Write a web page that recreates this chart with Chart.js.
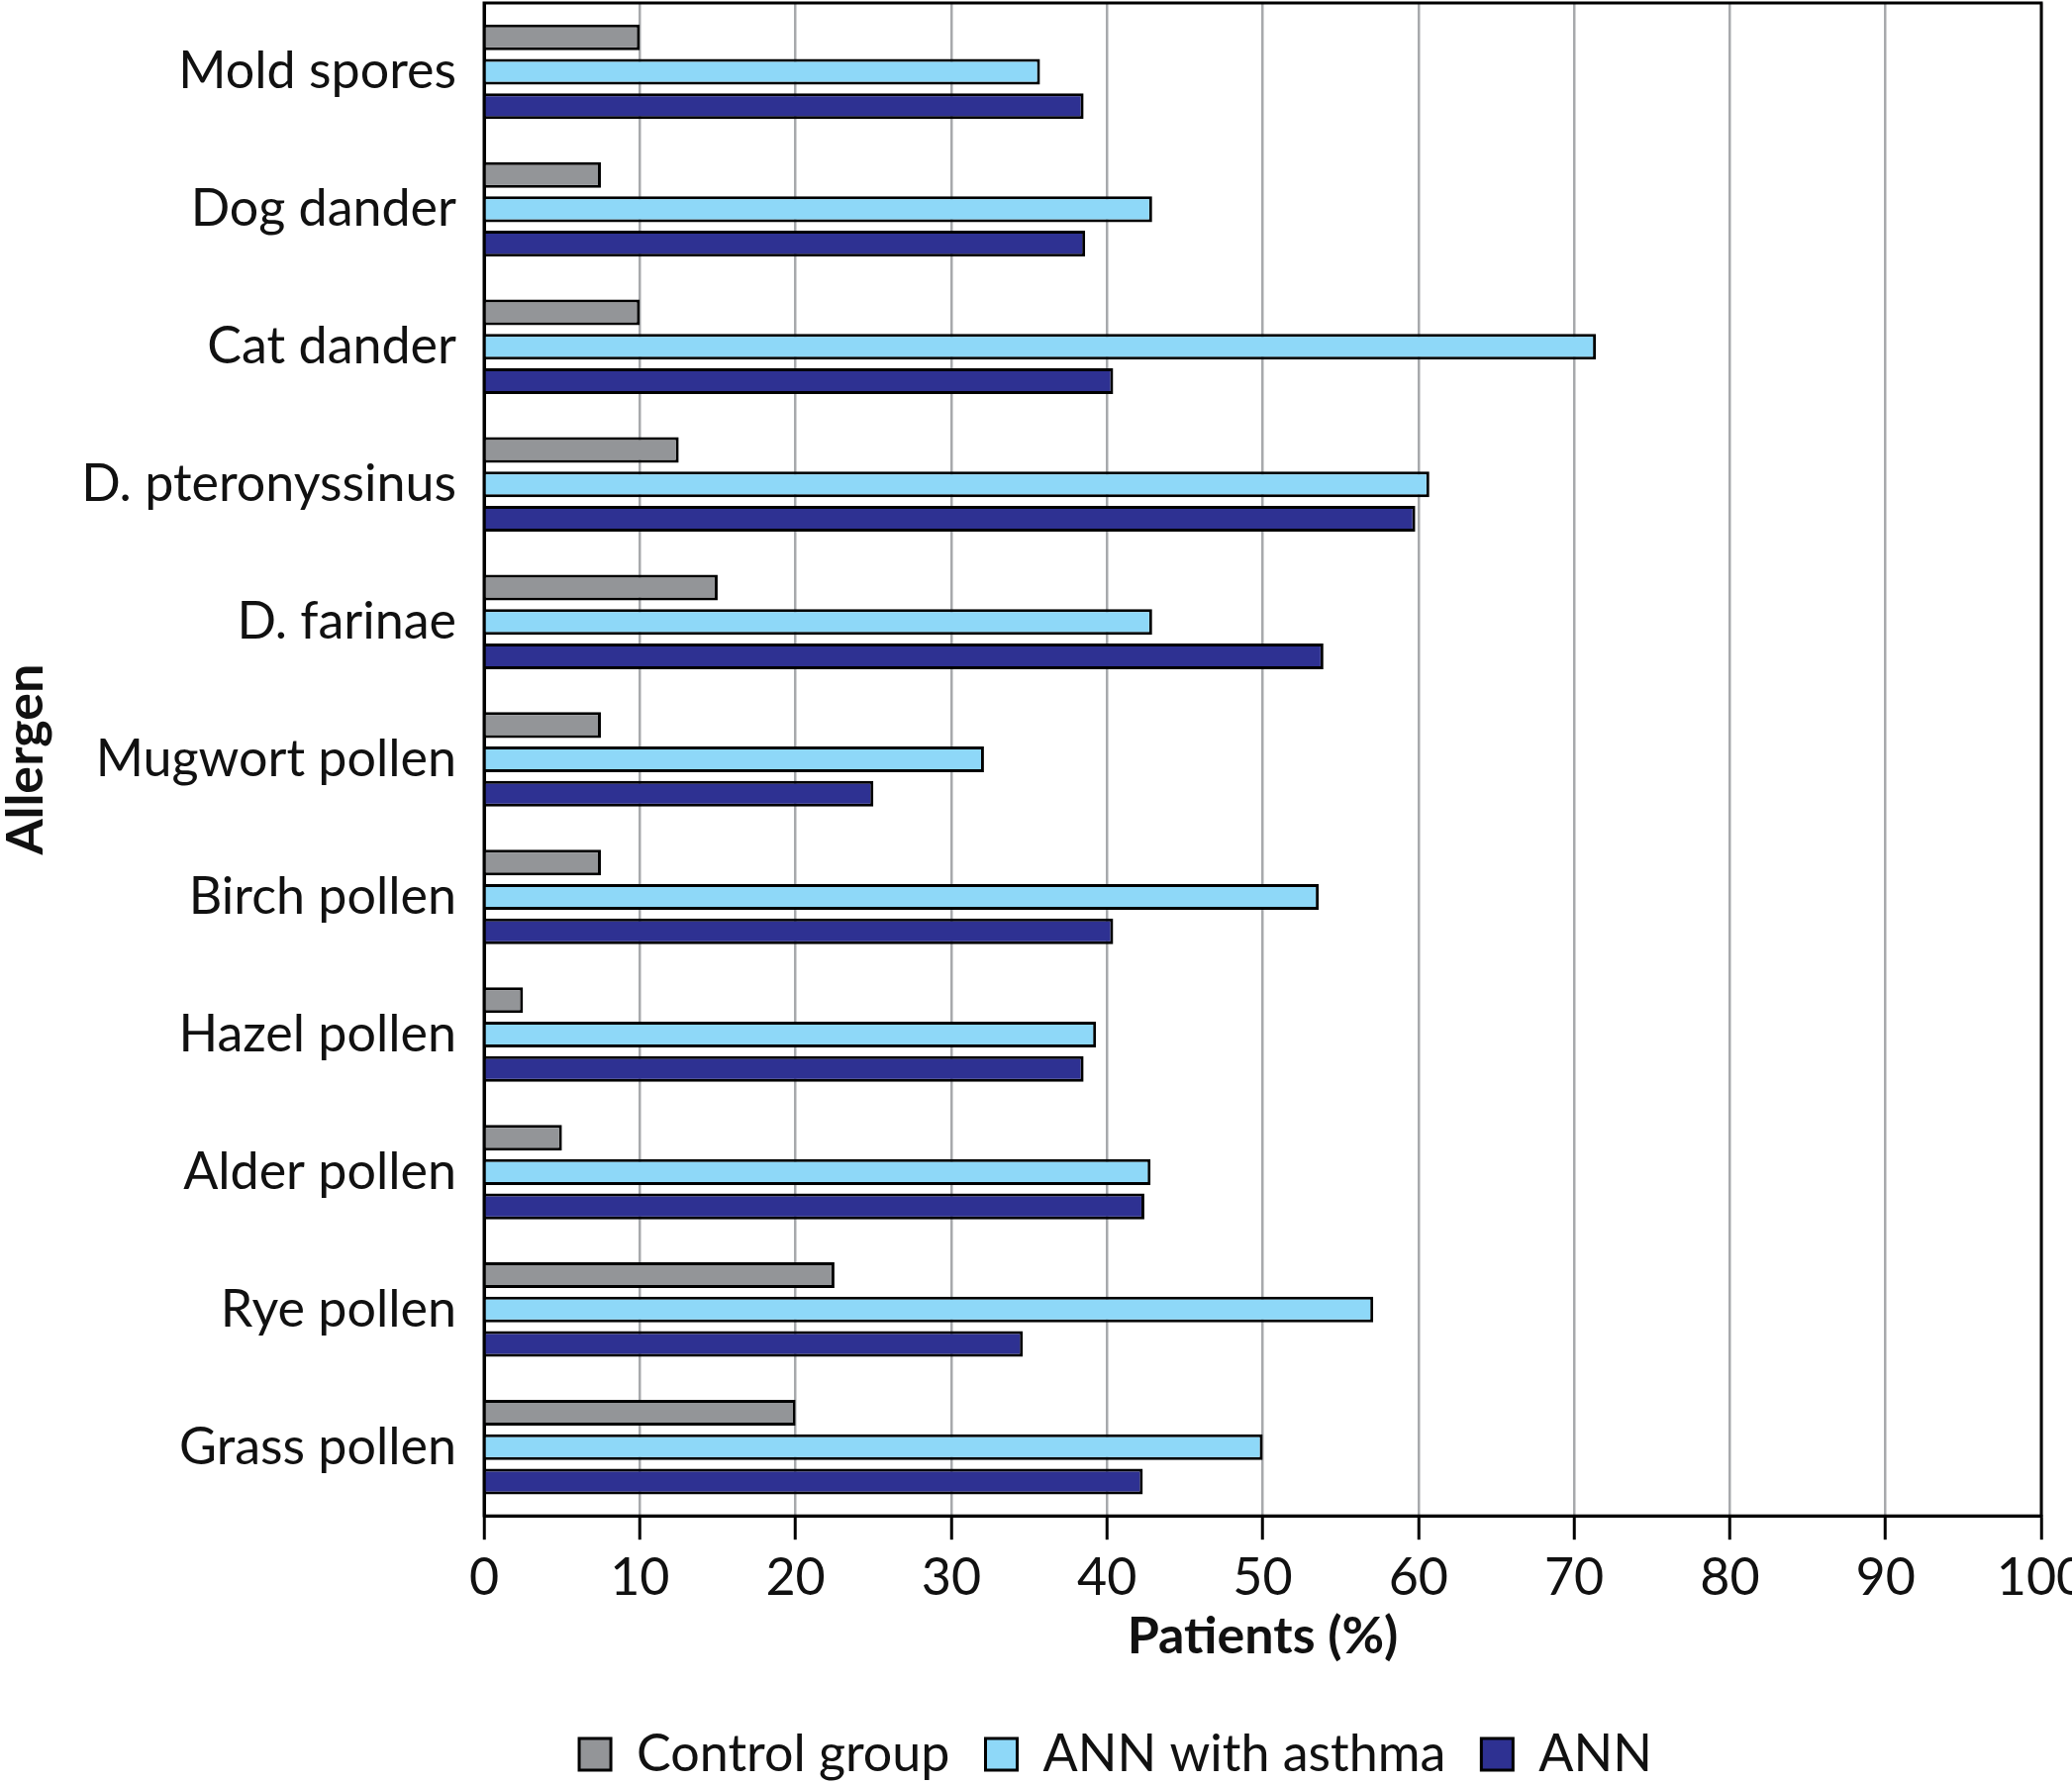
<!DOCTYPE html>
<html>
<head>
<meta charset="utf-8">
<script src="https://cdn.jsdelivr.net/npm/chart.js@4.4.1/dist/chart.umd.min.js"></script>
<style>
  html, body { margin: 0; padding: 0; background: #fff; }
  #wrap { width: 2093px; height: 1802px; }
</style>
</head>
<body>
<div id="wrap"><canvas id="chart" width="2093" height="1802"></canvas></div>
<script>
var allergens = ['Mold spores', 'Dog dander', 'Cat dander', 'D. pteronyssinus', 'D. farinae',
    'Mugwort pollen', 'Birch pollen', 'Hazel pollen', 'Alder pollen', 'Rye pollen', 'Grass pollen'];
var controlGroup = [10.0, 7.5, 10.0, 12.5, 15.0, 7.5, 7.5, 2.5, 5.0, 22.5, 20.0];
var annAsthma = [35.7, 42.9, 71.4, 60.7, 42.9, 32.1, 53.6, 39.3, 42.8, 57.1, 50.0];
var ann = [38.5, 38.6, 40.4, 59.8, 53.9, 25.0, 40.4, 38.5, 42.4, 34.6, 42.3];
var xTicks = [0, 10, 20, 30, 40, 50, 60, 70, 80, 90, 100];

var FONT = 'Lato';

// black box round the plot area, and legend nudged like the original
var frame = {
    id: 'frame',
    afterLayout: function (chart) {
        var lg = chart.legend;
        lg.left += 96;
        lg.right += 96;
        lg.top += 6;
        lg.bottom += 6;
    },
    afterDraw: function (chart) {
        var a = chart.chartArea, c = chart.ctx;
        c.save();
        c.strokeStyle = '#000';
        c.lineWidth = 3;
        c.strokeRect(a.left, a.top, a.right - a.left, a.bottom - a.top);
        c.restore();
    }
};

function createChart(ctx) {
    return new Chart(ctx, {
        type: 'bar',
        data: {
            labels: allergens,
            datasets: [
                { label: 'Control group', data: controlGroup, backgroundColor: '#939598', borderColor: '#000', borderWidth: 3 },
                { label: 'ANN with asthma', data: annAsthma, backgroundColor: '#8ED8F8', borderColor: '#000', borderWidth: 3 },
                { label: 'ANN', data: ann, backgroundColor: '#2E3192', borderColor: '#000', borderWidth: 3 }
            ]
        },
        options: {
            indexAxis: 'y',
            responsive: false,
            devicePixelRatio: 1,
            animation: false,
            categoryPercentage: 0.75,
            barPercentage: 0.75,
            layout: { padding: { top: 3, right: 31, left: 0, bottom: 0 } },
            plugins: {
                tooltip: { enabled: false },
                legend: {
                    position: 'bottom',
                    labels: {
                        font: { family: FONT, size: 52 },
                        color: '#111',
                        boxWidth: 32,
                        boxHeight: 32,
                        padding: 36,
                        generateLabels: function (chart) {
                            return chart.data.datasets.map(function (ds, i) {
                                return {
                                    text: ds.label, fillStyle: ds.backgroundColor, strokeStyle: '#000',
                                    lineWidth: 3, datasetIndex: i, fontColor: '#111'
                                };
                            });
                        }
                    }
                }
            },
            scales: {
                x: {
                    min: 0,
                    max: 100,
                    afterBuildTicks: function (scale) {
                        scale.ticks = xTicks.map(function (v) { return { value: v }; });
                    },
                    afterFit: function (scale) {
                        scale.paddingLeft = 0;
                        scale.paddingRight = 0;
                        scale.height -= 12;
                    },
                    grid: {
                        color: '#A7A9AC',
                        lineWidth: 2.5,
                        tickColor: '#000',
                        tickLength: 24,
                        tickWidth: 3
                    },
                    border: { color: '#000', width: 3 },
                    ticks: { font: { family: FONT, size: 52 }, color: '#111', padding: 8, maxRotation: 0 },
                    title: {
                        display: true,
                        text: 'Patients (%)',
                        font: { family: FONT, size: 52, weight: 'bold' },
                        color: '#111',
                        padding: { top: 0, bottom: 20 }
                    }
                },
                y: {
                    afterFit: function (scale) {
                        scale.width = 489;
                        scale.paddingTop = 0;
                        scale.paddingBottom = 0;
                    },
                    grid: { display: false },
                    border: { color: '#000', width: 3 },
                    ticks: { font: { family: FONT, size: 52 }, color: '#111', padding: 20 },
                    title: {
                        display: true,
                        text: 'Allergen',
                        font: { family: FONT, size: 52, weight: 'bold', lineHeight: 1 },
                        color: '#111',
                        padding: 0
                    }
                }
            }
        },
        plugins: [frame]
    });
}

createChart(document.getElementById('chart').getContext('2d'));
</script>
</body>
</html>
